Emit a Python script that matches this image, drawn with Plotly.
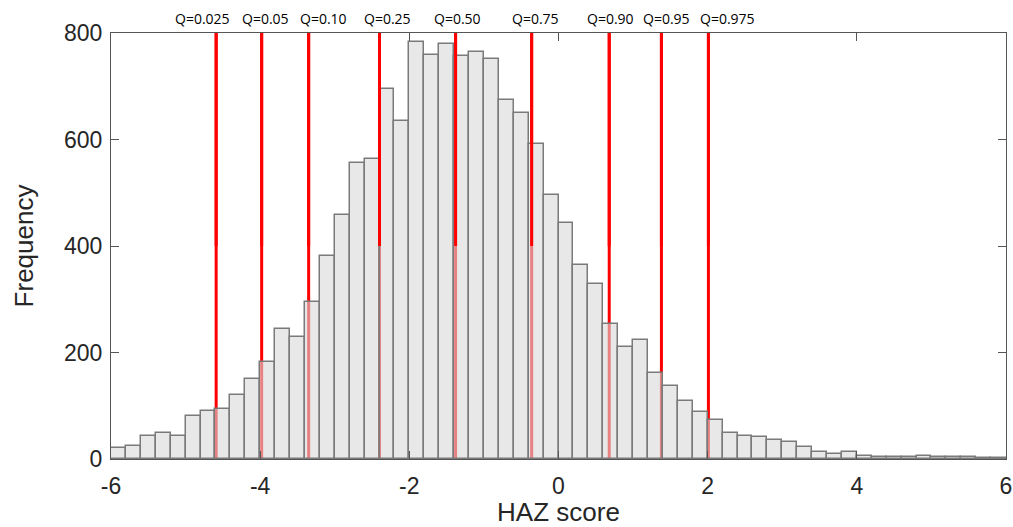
import numpy as np
import plotly.graph_objects as go

# ---- data ----
bin_start = -6.0
bin_width = 0.2
counts = [21, 24, 44, 49, 44, 81, 91, 93, 120, 150,
          183, 244, 229, 295, 382, 459, 555, 564, 694, 635,
          784, 758, 779, 757, 764, 751, 675, 649, 591, 495,
          444, 364, 328, 254, 210, 224, 162, 138, 108, 88,
          73, 48, 44, 41, 35, 31, 23, 14, 9, 14,
          6, 4, 4, 4, 6, 4, 4, 4, 2, 2]
q_labels = ["Q=0.025", "Q=0.05", "Q=0.10", "Q=0.25", "Q=0.50",
            "Q=0.75", "Q=0.90", "Q=0.95", "Q=0.975"]
q_values = [-4.59, -3.98, -3.35, -2.40, -1.38, -0.36, 0.68, 1.38, 2.01]
x_ticks = [-6, -4, -2, 0, 2, 4, 6]
x_tick_text = ["-6", "-4", "-2", "0", "2", "4", "6"]
y_ticks = [0, 200, 400, 600, 800]

# ---- style ----
label_shift = [-14, 4, 15, 8, 2, 4, 1, 5, 19]
axis_col = "#555555"
text_col = "#262626"

centers = [bin_start + bin_width * (i + 0.5) for i in range(len(counts))]

fig = go.Figure()
fig.add_trace(go.Bar(
    x=centers, y=counts, width=bin_width,
    marker=dict(color="rgba(216,216,216,0.6)",
                line=dict(color="#7a7a7a", width=1.5)),
    showlegend=False, hoverinfo="x+y"))

for q, lab, dx in zip(q_values, q_labels, label_shift):
    fig.add_shape(type="line", xref="x", yref="y", x0=q, x1=q, y0=0, y1=800,
                  line=dict(color="#ff0000", width=3), layer="below")
    fig.add_shape(type="line", xref="x", yref="y", x0=q, x1=q, y0=400, y1=800,
                  line=dict(color="#ff0000", width=3), layer="above")
    fig.add_annotation(x=q, y=1, xref="x", yref="paper", text=lab,
                       showarrow=False, yanchor="bottom", xshift=dx, yshift=3,
                       font=dict(family="Open Sans", size=14, color="black"))

fig.update_layout(
    width=1013, height=527,
    margin=dict(l=111, r=7, t=33, b=68),
    plot_bgcolor="white", paper_bgcolor="white",
    bargap=0,
    font=dict(family="Liberation Sans", size=23, color=text_col),
)
fig.update_xaxes(range=[-6, 6], tickvals=x_ticks, ticktext=x_tick_text,
                 ticks="inside", ticklen=8, ticklabelstandoff=6,
                 automargin=False,
                 tickcolor=axis_col, showline=True, linecolor=axis_col,
                 linewidth=1, mirror="ticks", showgrid=False, zeroline=False,
                 title=dict(text="HAZ score", font=dict(size=26), standoff=8))
fig.update_yaxes(range=[0, 800], tickvals=y_ticks, ticks="inside", ticklen=8,
                 ticklabelstandoff=3, automargin=False,
                 tickcolor=axis_col, showline=True, linecolor=axis_col,
                 linewidth=1, mirror="ticks", showgrid=False, zeroline=False,
                 title=dict(text="Frequency", font=dict(size=26), standoff=22))

fig.write_html("out.html")
